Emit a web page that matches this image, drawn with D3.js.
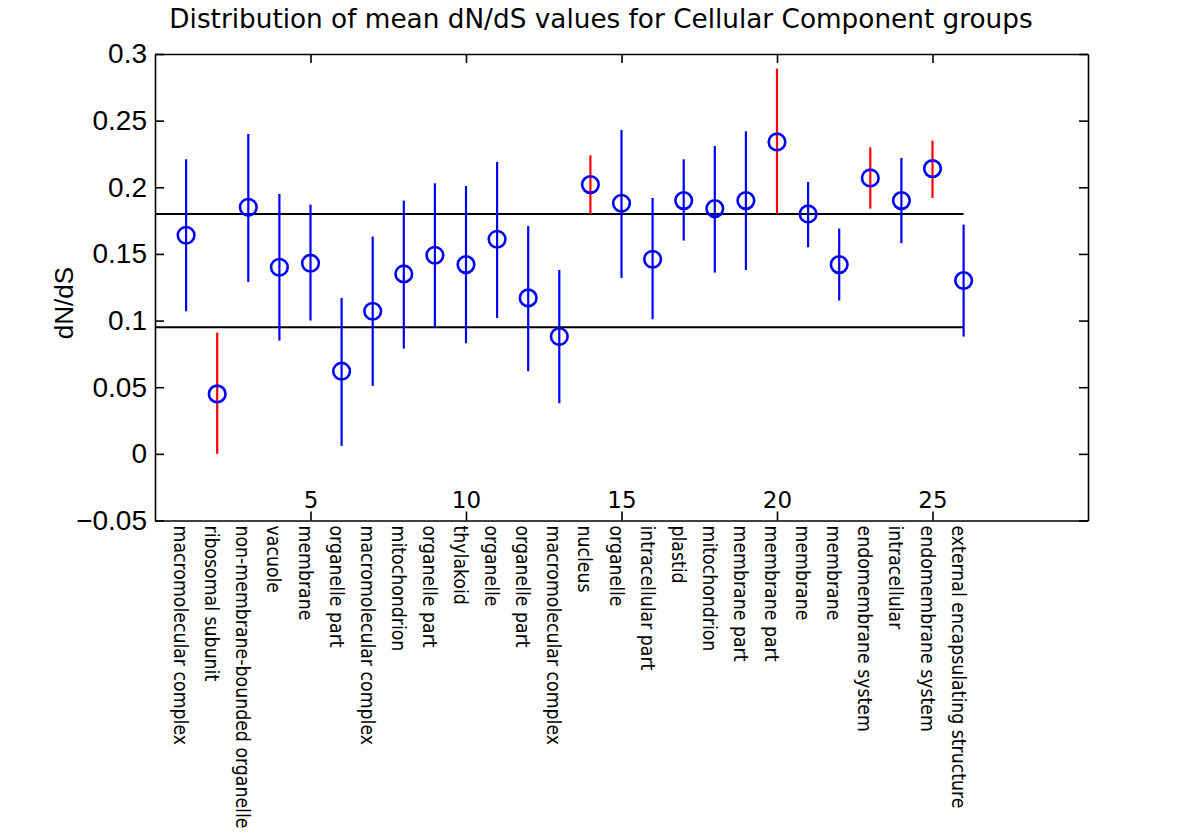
<!DOCTYPE html>
<html>
<head>
<meta charset="utf-8">
<script src="https://cdn.jsdelivr.net/npm/d3@7/dist/d3.min.js"></script>
<style>
  html, body { margin: 0; padding: 0; background: #fff; }
  svg { display: block; }
</style>
</head>
<body>
<svg id="chart" width="1200" height="839"></svg>
<script>
const categories = [
  "macromolecular complex", "ribosomal subunit", "non-membrane-bounded organelle",
  "vacuole", "membrane", "organelle part", "macromolecular complex", "mitochondrion",
  "organelle part", "thylakoid", "organelle", "organelle part", "macromolecular complex",
  "nucleus", "organelle", "intracellular part", "plastid", "mitochondrion",
  "membrane part", "membrane part", "membrane", "membrane", "endomembrane system",
  "intracellular", "endomembrane system", "external encapsulating structure"
];
const meanValues = [
  0.164, 0.045, 0.185, 0.140, 0.143, 0.062, 0.107, 0.135, 0.149, 0.142, 0.161, 0.117, 0.088,
  0.202, 0.188, 0.146, 0.190, 0.184, 0.190, 0.234, 0.180, 0.142, 0.207, 0.190, 0.214, 0.130
];
const lowerValues = [
  0.107, 0.000, 0.129, 0.085, 0.100, 0.006, 0.051, 0.079, 0.095, 0.083, 0.102, 0.062, 0.038,
  0.180, 0.132, 0.101, 0.160, 0.136, 0.138, 0.180, 0.155, 0.115, 0.184, 0.158, 0.192, 0.088
];
const upperValues = [
  0.221, 0.091, 0.240, 0.195, 0.187, 0.117, 0.163, 0.190, 0.203, 0.201, 0.219, 0.171, 0.138,
  0.224, 0.243, 0.192, 0.221, 0.231, 0.242, 0.289, 0.204, 0.169, 0.230, 0.222, 0.235, 0.172
];
const significant = [
  false, true, false, false, false, false, false, false, false, false, false, false, false,
  true, false, false, false, false, false, true, false, false, true, false, true, false
];
const thresholdLines = [0.18, 0.095];
const yTickValues = [-0.05, 0, 0.05, 0.1, 0.15, 0.2, 0.25, 0.3];
const yTickLabels = ["\u22120.05", "0", "0.05", "0.1", "0.15", "0.2", "0.25", "0.3"];
const xTickValues = [5, 10, 15, 20, 25];
const titleText = "Distribution of mean dN/dS values for Cellular Component groups";
const yAxisLabel = "dN/dS";

const svg = d3.select("#chart");
const plotLeft = 155, plotRight = 1088, plotTop = 54, plotBottom = 520.5;

const x = d3.scaleLinear().domain([0, 30]).range([plotLeft, plotRight]);
const y = d3.scaleLinear().domain([-0.05, 0.3]).range([plotBottom, plotTop]);

const idx = d3.range(1, categories.length + 1);
const data = idx.map((i, k) => ({
  i, name: categories[k], mean: meanValues[k], lo: lowerValues[k], hi: upperValues[k], sig: significant[k]
}));

// Title
svg.append("text")
  .attr("x", 601).attr("y", 28)
  .attr("text-anchor", "middle")
  .style("font-family", "'DejaVu Sans'")
  .style("font-size", "26.3px")
  .attr("fill", "#000")
  .text(titleText);

// Threshold lines
svg.append("g").selectAll("line").data(thresholdLines).join("line")
  .attr("x1", x(0)).attr("x2", x(categories.length))
  .attr("y1", d => y(d)).attr("y2", d => y(d))
  .attr("stroke", "#000").attr("stroke-width", 2);

// Error bars
svg.append("g").selectAll("line").data(data).join("line")
  .attr("x1", d => x(d.i)).attr("x2", d => x(d.i))
  .attr("y1", d => y(d.hi)).attr("y2", d => y(d.lo))
  .attr("stroke", d => d.sig ? "#ff0000" : "#0000ff")
  .attr("stroke-width", 2.2);

// Mean markers
svg.append("g").selectAll("circle").data(data).join("circle")
  .attr("cx", d => x(d.i)).attr("cy", d => y(d.mean))
  .attr("r", 8.3)
  .attr("fill", "none")
  .attr("stroke", "#0000ff")
  .attr("stroke-width", 2.6);

// Axes
const axisStyle = g => {
  g.select(".domain").attr("stroke", "#000").attr("stroke-width", 1.6);
  g.selectAll(".tick line").attr("stroke", "#000").attr("stroke-width", 1.6);
};

svg.append("g").attr("transform", `translate(${plotLeft},0)`)
  .call(d3.axisLeft(y).tickValues(yTickValues).tickSizeInner(-9).tickSizeOuter(0).tickPadding(8)
    .tickFormat((d, k) => yTickLabels[k]))
  .call(axisStyle)
  .call(g => g.selectAll(".tick text")
    .style("font-family", "'Liberation Sans', Arial, sans-serif")
    .style("font-size", "28px").attr("fill", "#000"));

svg.append("g").attr("transform", `translate(${plotRight},0)`)
  .call(d3.axisRight(y).tickValues(yTickValues).tickSizeInner(-9).tickSizeOuter(0).tickFormat(""))
  .call(axisStyle);

svg.append("g").attr("transform", `translate(0,${plotTop})`)
  .call(d3.axisTop(x).tickValues(xTickValues).tickSizeInner(-9).tickSizeOuter(0).tickFormat(""))
  .call(axisStyle);

svg.append("g").attr("transform", `translate(0,${plotBottom})`)
  .call(d3.axisTop(x).tickValues(xTickValues).tickSizeInner(9).tickSizeOuter(0).tickPadding(4))
  .call(axisStyle)
  .call(g => g.selectAll(".tick text")
    .style("font-family", "'DejaVu Sans'")
    .style("font-size", "23px").attr("fill", "#000"));

// Category labels (rotated)
svg.append("g").selectAll("text").data(data).join("text")
  .attr("transform", d => `translate(${x(d.i)},${plotBottom + 5}) rotate(90)`)
  .attr("y", 12)
  .attr("text-anchor", "start")
  .style("font-family", "'DejaVu Sans Condensed', 'DejaVu Sans'")
  .style("font-stretch", "condensed")
  .style("font-size", "19.3px")
  .attr("fill", "#000")
  .text(d => d.name);

// Y axis label
svg.append("text")
  .attr("transform", `translate(73,303) rotate(-90)`)
  .attr("text-anchor", "middle")
  .style("font-family", "'Liberation Sans', Arial, sans-serif")
  .style("font-size", "26px")
  .attr("fill", "#000")
  .text(yAxisLabel);
</script>
</body>
</html>
